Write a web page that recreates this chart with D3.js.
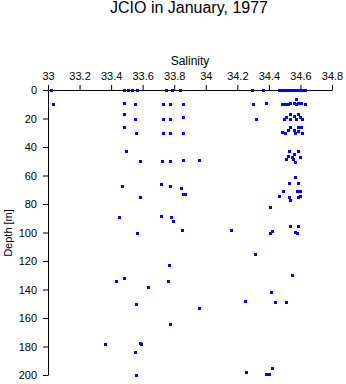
<!DOCTYPE html>
<html><head><meta charset="utf-8">
<script src="https://cdn.jsdelivr.net/npm/d3@7"></script>
<style>body{margin:0;background:#fff}svg{display:block}text{font-family:"Liberation Sans",Arial,sans-serif}</style>
</head><body>
<svg id="c" width="346" height="384"></svg>
<script>
const title = "JCIO in January, 1977";
const xLabel = "Salinity";
const yLabel = "Depth [m]";
const xTicks = [33,33.2,33.4,33.6,33.8,34,34.2,34.4,34.6,34.8];
const yTicks = [0,20,40,60,80,100,120,140,160,180,200];
const salinity = [
 33.017,33.483,33.506,33.53,33.565,33.749,33.787,33.839,34.293,34.363,34.464,34.485,34.503,34.521,34.532,34.547,34.563,34.579,34.595,34.612,34.628,
 34.57,
 33.034,33.483,33.553,33.73,33.774,33.856,34.30,34.38,34.482,34.494,34.51,34.521,34.532,34.559,34.573,34.584,34.606,34.627,
 33.483,33.553,33.73,33.774,33.856,34.318,34.532,34.584,34.506,34.559,34.595,34.494,34.532,34.574,34.609,
 33.483,33.557,33.73,33.774,33.856,34.532,34.584,34.606,34.521,34.559,34.584,34.483,34.502,34.563,34.609,
 33.496,33.584,33.72,33.774,33.856,33.958,34.527,34.584,34.559,34.521,34.546,34.597,34.508,34.553,34.568,
 33.47,33.717,33.774,33.844,33.856,33.869,33.584,34.566,34.527,34.584,34.49,34.578,34.60,34.464,34.527,34.534,34.584,34.597,
 34.41,33.451,33.717,33.78,33.793,34.534,34.584,33.848,34.16,34.41,34.418,34.563,34.578,33.565,
 34.31,33.766,34.546,33.428,33.483,33.76,33.635,34.416,34.247,34.441,34.51,33.555,33.958,33.774,33.363,33.584,33.59,33.553,34.42,34.255,34.384,34.40,33.56
];
const depth = [
 0,0,0,0,0,0,0,0,0,0,0,0,0,0,0,0,0,0,0,0,0,
 6,
 10,9,10,10,10,10,10,9,10,10,10,10,9,9,10,9,9,10,
 17,20,20,20,19,20,17,17,19,18,19,20,20,20,20,
 26,30,30,30,30,26,26,26,28,28,29,29.5,30.4,30.4,30.4,
 43,50,50,50,49,49,43,43,45,46.5,47,47,48.7,48.7,50.3,
 67.6,66,67.6,69,73,73,75.3,61.3,65.5,65.5,71,71,71,74.6,75.3,77.4,75.3,74.6,
 82.3,89.3,88.4,89.3,92.2,95.2,95.2,98.5,98.5,100,99,99.5,100,100.6,
 115.3,123,130,134.3,132.2,134.3,138.5,142,148.3,149,149,150.4,153.2,164.4,178,177.3,178,184.1,195,198,199,199,200
];

const svg = d3.select("#c");
const x = d3.scaleLinear().domain([33,34.8]).range([48,332]);
const y = d3.scaleLinear().domain([0,200]).range([90,375]);

svg.append("text").attr("x",189).attr("y",13).attr("text-anchor","middle")
  .attr("font-size",16).text(title);
svg.append("text").attr("x",190).attr("y",65).attr("text-anchor","middle")
  .attr("font-size",12).text(xLabel);
svg.append("text").attr("transform","translate(12,233) rotate(-90)").attr("text-anchor","middle")
  .attr("font-size",11).text(yLabel);

const gx = svg.append("g").attr("transform","translate(0,90)")
  .call(d3.axisTop(x).tickValues(xTicks).tickFormat(d3.format("")).tickSize(5).tickPadding(5).tickSizeOuter(0));
const gy = svg.append("g").attr("transform","translate(48,0)")
  .call(d3.axisLeft(y).tickValues(yTicks).tickFormat(d3.format("d")).tickSize(5).tickPadding(6).tickSizeOuter(0));
[gx,gy].forEach(g=>{
  g.selectAll("text").attr("font-size",11).attr("font-family","Liberation Sans, Arial, sans-serif").attr("fill","#000");
  g.selectAll("line,path").attr("stroke","#000");
});

svg.append("g").selectAll("rect").data(d3.range(salinity.length)).join("rect")
  .attr("x",i=>Math.round(x(salinity[i]))-1.5+0.5)
  .attr("y",i=>Math.round(y(depth[i]))-1.5+0.5)
  .attr("width",3).attr("height",3).attr("fill","#0000ff");
</script>
</body></html>
